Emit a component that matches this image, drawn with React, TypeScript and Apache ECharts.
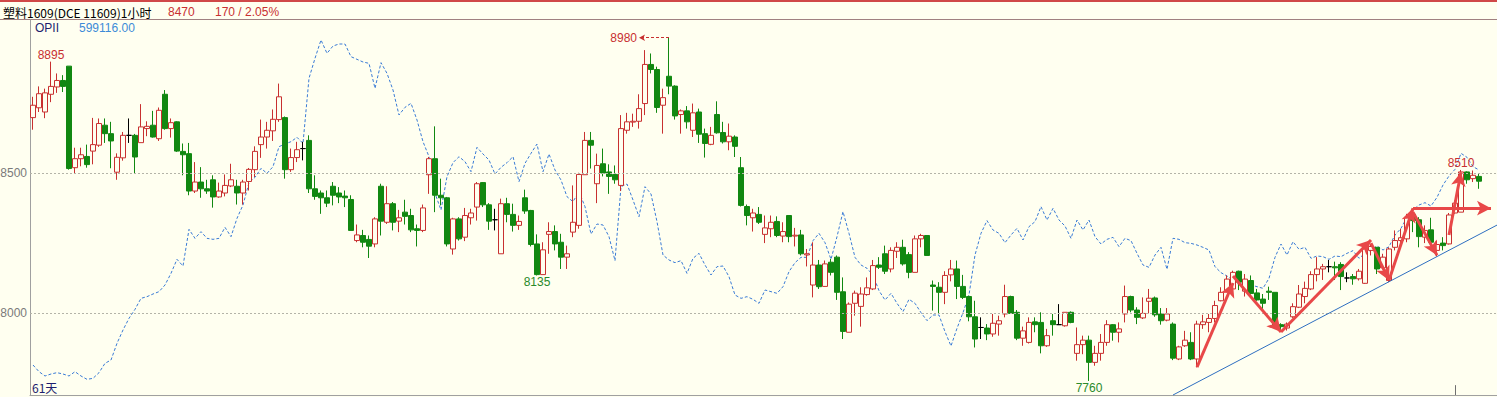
import React, { useEffect, useRef } from "react";
import * as echarts from "echarts";

// ---- data (hourly bars, 塑料1609) ----
const openP = [
  8696, 8731, 8716, 8779, 8805, 8828, 8879, 8518, 8550, 8558,
  8577, 8598, 8669, 8639, 8502, 8553, 8633, 8633, 8607, 8657,
  8669, 8621, 8779, 8657, 8681, 8576, 8568, 8435, 8467, 8443,
  8475, 8414, 8428, 8453, 8452, 8428, 8469, 8511, 8600, 8627,
  8649, 8689, 8696, 8511, 8554, 8586, 8615, 8443, 8428, 8411,
  8452, 8428, 8417, 8405, 8259, 8277, 8263, 8247, 8452, 8324,
  8390, 8328, 8360, 8348, 8301, 8295, 8493, 8550, 8420, 8411,
  8229, 8336, 8271, 8340, 8378, 8465, 8386, 8333, 8212, 8390,
  8352, 8313, 8411, 8366, 8247, 8138, 8281, 8291, 8253, 8200,
  8289, 8313, 8493, 8615, 8461, 8532, 8503, 8494, 8455, 8651,
  8680, 8683, 8746, 8885, 8867, 8740, 8843, 8808, 8707, 8720,
  8651, 8716, 8639, 8601, 8707, 8643, 8610, 8627, 8518, 8380,
  8340, 8352, 8281, 8301, 8327, 8275, 8348, 8275, 8279, 8208,
  8101, 8172, 8096, 8182, 8200, 8077, 7933, 8036, 8025, 8067,
  8087, 8172, 8212, 8158, 8221, 8235, 8209, 8146, 8265, 8277,
  8101, 8093, 8075, 8137, 8158, 8096, 8060, 7988, 7950, 7948,
  7927, 7962, 7998, 8060, 8004, 7912, 7897, 7970, 7968, 7885,
  7974, 7960, 7956, 8004, 7858, 7889, 7905, 7826, 7858, 7897,
  7960, 7933, 7998, 8060, 8012, 7984, 8043, 8055, 7998, 7976,
  7962, 7838, 7885, 7897, 7838, 7960, 7968, 7982, 8045, 8081,
  8087, 8150, 8079, 8117, 8073, 8051, 8079, 8075, 7960, 7948,
  7988, 8022, 8060, 8087, 8138, 8158, 8166, 8166, 8174, 8126,
  8131, 8123, 8107, 8224, 8235, 8162, 8117, 8235, 8259, 8265,
  8352, 8333, 8271, 8297, 8224, 8250, 8247, 8357, 8360, 8503,
  8479, 8487,
];
const closeP = [
  8740, 8781, 8784, 8807, 8828, 8807, 8515, 8550, 8564, 8529,
  8600, 8675, 8639, 8613, 8555, 8633, 8633, 8556, 8663, 8665,
  8627, 8722, 8657, 8678, 8577, 8564, 8435, 8467, 8443, 8435,
  8414, 8435, 8455, 8475, 8428, 8467, 8512, 8576, 8627, 8651,
  8690, 8770, 8511, 8554, 8582, 8586, 8443, 8416, 8411, 8392,
  8420, 8414, 8411, 8295, 8279, 8253, 8239, 8336, 8328, 8390,
  8324, 8340, 8345, 8297, 8295, 8375, 8550, 8420, 8411, 8247,
  8336, 8265, 8348, 8357, 8461, 8386, 8328, 8333, 8390, 8352,
  8313, 8327, 8364, 8245, 8138, 8226, 8291, 8247, 8200, 8212,
  8324, 8494, 8615, 8598, 8526, 8499, 8487, 8475, 8657, 8681,
  8683, 8728, 8885, 8867, 8732, 8767, 8808, 8702, 8720, 8681,
  8713, 8637, 8604, 8633, 8642, 8610, 8630, 8594, 8384, 8348,
  8357, 8324, 8304, 8324, 8277, 8291, 8273, 8278, 8212, 8212,
  8172, 8095, 8176, 8146, 8075, 7936, 8033, 8072, 8069, 8091,
  8170, 8164, 8150, 8224, 8235, 8176, 8146, 8265, 8277, 8206,
  8096, 8075, 8135, 8158, 8096, 8057, 7988, 7909, 7950, 7927,
  7965, 7974, 8060, 8000, 7912, 7938, 7968, 7960, 7885, 7921,
  7960, 7960, 8004, 7968, 7889, 7905, 7826, 7858, 7897, 7960,
  7933, 7945, 8060, 8012, 7986, 8000, 8054, 7995, 7974, 7998,
  7841, 7881, 7905, 7838, 7962, 7970, 7982, 8028, 8075, 8122,
  8146, 8111, 8122, 8071, 8048, 8036, 8075, 7956, 7953, 7962,
  8024, 8069, 8089, 8138, 8158, 8166, 8166, 8162, 8131, 8126,
  8123, 8150, 8229, 8238, 8158, 8200, 8229, 8259, 8269, 8340,
  8330, 8273, 8295, 8253, 8245, 8241, 8350, 8392, 8503, 8475,
  8491, 8470,
];
const lowP = [
  8653, 8716, 8694, 8751, 8784, 8787, 8511, 8499, 8523, 8518,
  8530, 8592, 8606, 8516, 8475, 8543, 8606, 8499, 8607, 8630,
  8625, 8613, 8653, 8625, 8574, 8491, 8420, 8428, 8411, 8425,
  8376, 8411, 8416, 8449, 8387, 8387, 8437, 8485, 8553, 8586,
  8613, 8681, 8479, 8503, 8538, 8544, 8428, 8404, 8354, 8378,
  8384, 8392, 8378, 8295, 8253, 8235, 8197, 8235, 8277, 8318,
  8295, 8289, 8316, 8289, 8238, 8289, 8425, 8360, 8384, 8238,
  8209, 8259, 8257, 8316, 8330, 8378, 8297, 8295, 8212, 8324,
  8291, 8297, 8354, 8238, 8135, 8138, 8212, 8224, 8158, 8158,
  8271, 8301, 8493, 8515, 8392, 8487, 8425, 8461, 8435, 8639,
  8663, 8657, 8705, 8853, 8713, 8639, 8779, 8689, 8639, 8657,
  8627, 8606, 8554, 8598, 8639, 8604, 8580, 8556, 8380, 8313,
  8291, 8318, 8250, 8271, 8271, 8253, 8253, 8238, 8206, 8167,
  8057, 8087, 8095, 8135, 8048, 7909, 7933, 7992, 7953, 8063,
  8083, 8158, 8140, 8146, 8197, 8170, 8125, 8146, 8235, 8206,
  8010, 7998, 8033, 8114, 8051, 8051, 7972, 7879, 7909, 7905,
  7917, 7921, 7986, 8000, 7905, 7885, 7893, 7933, 7858, 7881,
  7921, 7960, 7953, 7965, 7832, 7855, 7760, 7814, 7832, 7885,
  7903, 7897, 7968, 8004, 7962, 7980, 8000, 7988, 7960, 7972,
  7834, 7834, 7881, 7834, 7808, 7945, 7933, 7968, 8043, 8075,
  8083, 8083, 8060, 8067, 8045, 8016, 8048, 7953, 7941, 7939,
  7984, 8019, 8036, 8083, 8114, 8119, 8146, 8119, 8083, 8111,
  8102, 8117, 8105, 8206, 8140, 8158, 8111, 8224, 8250, 8253,
  8289, 8235, 8250, 8247, 8202, 8224, 8245, 8354, 8360, 8461,
  8467, 8443,
];
const highP = [
  8770, 8807, 8799, 8895, 8853, 8847, 8879, 8589, 8589, 8600,
  8695, 8693, 8693, 8681, 8569, 8645, 8693, 8638, 8744, 8683,
  8720, 8732, 8794, 8693, 8683, 8604, 8606, 8538, 8520, 8475,
  8491, 8465, 8494, 8532, 8475, 8475, 8517, 8594, 8689, 8681,
  8725, 8817, 8700, 8586, 8610, 8610, 8633, 8491, 8437, 8437,
  8467, 8449, 8437, 8420, 8316, 8297, 8277, 8342, 8461, 8452,
  8396, 8368, 8404, 8372, 8316, 8387, 8556, 8665, 8479, 8414,
  8340, 8342, 8375, 8372, 8467, 8467, 8392, 8372, 8408, 8411,
  8390, 8348, 8440, 8368, 8281, 8253, 8324, 8313, 8283, 8241,
  8455, 8500, 8645, 8645, 8568, 8586, 8530, 8526, 8705, 8713,
  8710, 8779, 8936, 8924, 8877, 8799, 8980, 8811, 8725, 8737,
  8746, 8728, 8657, 8663, 8754, 8681, 8675, 8633, 8556, 8387,
  8372, 8378, 8348, 8348, 8345, 8324, 8348, 8304, 8297, 8229,
  8253, 8190, 8188, 8194, 8206, 8128, 8039, 8081, 8093, 8128,
  8190, 8200, 8241, 8235, 8253, 8262, 8218, 8277, 8283, 8277,
  8117, 8111, 8150, 8190, 8188, 8137, 8063, 8045, 7986, 7962,
  7998, 7992, 8102, 8063, 8012, 7953, 7986, 7986, 8004, 7945,
  7998, 8033, 8004, 8007, 7950, 7921, 7921, 7885, 7927, 7976,
  7962, 7968, 8099, 8063, 8022, 8057, 8087, 8060, 8019, 8019,
  7968, 7885, 7938, 7933, 7974, 7995, 7998, 8045, 8093, 8135,
  8152, 8152, 8140, 8135, 8087, 8069, 8095, 8075, 7965, 7968,
  8036, 8101, 8113, 8150, 8200, 8176, 8190, 8184, 8182, 8146,
  8140, 8158, 8235, 8247, 8235, 8212, 8235, 8295, 8301, 8354,
  8372, 8342, 8313, 8340, 8259, 8271, 8357, 8402, 8510, 8505,
  8508, 8497,
];
const opiValues = [
  546450, 544650, 543480, 544020, 544380, 544020, 543480, 544650, 543480, 542580,
  542850, 544380, 546900, 547800, 552300, 555900, 559050, 561480, 564450, 564900,
  565620, 566250, 568050, 571200, 574980, 573180, 583080, 580650, 582450, 580650,
  580380, 580650, 583620, 581100, 586050, 589650, 595680, 597120, 599550, 598200,
  600000, 605400, 606120, 606750, 607920, 606300, 623850, 629250, 634200, 630600,
  632580, 633120, 633120, 629700, 628980, 628260, 627900, 621150, 628080, 625200,
  620700, 613950, 616020, 617100, 612600, 606750, 602700, 592800, 588300, 597300,
  601080, 602700, 601350, 598650, 605220, 603420, 601800, 598020, 599820, 601080,
  602700, 595950, 600900, 603600, 606120, 598650, 603420, 599100, 596400, 591900,
  590550, 593250, 589200, 581820, 584520, 584250, 581100, 574620, 594600, 595320,
  591000, 586500, 594600, 592620, 585150, 576150, 574800, 574080, 574620, 571200,
  575250, 576600, 573450, 570750, 573000, 573180, 570300, 565350, 564450, 564900,
  564180, 563100, 566700, 566250, 565800, 567600, 571650, 574080, 575520, 575520,
  580020, 582000, 579480, 574980, 581100, 587850, 582000, 575520, 573450, 572550,
  570750, 566520, 564000, 565800, 563100, 560850, 564180, 563100, 560580, 558420,
  559950, 559950, 555450, 551580, 556350, 560580, 565350, 576150, 582000, 585420,
  582900, 582000, 579480, 581550, 583350, 580200, 583800, 585150, 589200, 585600,
  588750, 585600, 583980, 580650, 585600, 582900, 585600, 581100, 579120, 580380,
  580920, 578400, 580650, 580020, 576600, 573450, 572820, 576150, 578220, 572280,
  580650, 580380, 579480, 579300, 578850, 578220, 577500, 573000, 571380, 570480,
  569400, 568050, 568950, 568050, 567600, 567150, 569850, 575520, 579120, 576150,
  579750, 577680, 578220, 575250, 575880, 575700, 574980, 575880, 575700, 576600,
  577320, 575250, 576600, 577500, 578580, 577500, 578400, 581550, 583350, 586320,
  588300, 589650, 590280, 589380, 591720, 595050, 597480, 599280, 603600, 602520,
  600000, 599116,
];
const slotCount = 245;
const barIndex = Array.from({ length: slotCount }, (_, i) => String(i));
const priceTicks = [8000, 8500];
const highMarks = [[3, 8895], [238, 8510]];
const lowMarks = [[84, 8135], [176, 7760]];
const peakMark = { from: [106, 8980], to: [101, 8980] };
const trendArrows = [
  [[194, 7809], [200, 8108]],
  [[200, 8133], [208, 7934]],
  [[208, 7934], [223, 8261]],
  [[223, 8250], [226, 8118]],
  [[226, 8118], [230, 8374]],
  [[230, 8360], [234, 8207]],
  [[236, 8279], [238, 8502]],
  [[230, 8374], [243, 8374]],
];
const supportLine = [[190, 7710], [244, 8314]];
const cursorTick = [[237, 7710], [237, 7745]];
const headerName = "塑料1609(DCE 11609)1小时";
const headerLast = "8470";
const headerChange = "170 / 2.05%";
const opiName = "OPII";
const opiLast = "599116.00";
const periodText = "61天";

const RED = "#c83030";
const GREEN = "#118811";
const BG = "#fffff0";

export default function App() {
  const ref = useRef<HTMLDivElement>(null);
  useEffect(() => {
    if (!ref.current) return;
    const chart = echarts.init(ref.current, undefined, { renderer: "svg" });
    const candles = openP.map((o, i) => [o, closeP[i], lowP[i], highP[i]]);
    const markPts = [
      ...highMarks.map(([i, v]) => ({
        coord: [i, v],
        value: v,
        label: { position: "top", distance: 1, color: RED },
      })),
      ...lowMarks.map(([i, v]) => ({
        coord: [i, v],
        value: v,
        label: { position: "bottom", distance: 1, color: "#2a8a2a" },
      })),
    ];
    const lines: any[] = [
      ...priceTicks.map((p) => ({
        yAxis: p,
        lineStyle: { color: "#b4b4a8", type: [2, 2], width: 1 },
      })),
      [
        {
          coord: peakMark.from,
          symbol: "none",
          lineStyle: { color: RED, type: [3, 2], width: 1 },
          label: {
            show: true,
            position: "end",
            distance: 2,
            formatter: String(peakMark.from[1]),
            color: RED,
            fontSize: 12,
            fontFamily: "Liberation Sans",
          },
        },
        { coord: peakMark.to, symbol: "arrow", symbolSize: [5, 6] },
      ],
      [
        { coord: supportLine[0], symbol: "none", lineStyle: { color: "#2f6fc0", width: 1, type: "solid" } },
        { coord: supportLine[1], symbol: "none" },
      ],
      [
        { coord: cursorTick[0], symbol: "none", lineStyle: { color: "#707070", width: 1, type: "solid" } },
        { coord: cursorTick[1], symbol: "none" },
      ],
      ...trendArrows.map(([a, b]) => [
        { coord: a, symbol: "none", lineStyle: { color: "#e84848", width: 3, type: "solid" } },
        { coord: b, symbol: "arrow", symbolSize: [11, 14] },
      ]),
    ];
    chart.setOption({
      animation: false,
      backgroundColor: BG,
      grid: {
        left: 30,
        top: 20,
        width: 1470,
        height: 375,
        show: false,
        containLabel: false,
        outerBoundsMode: "none",
      },
      xAxis: {
        type: "category",
        data: barIndex,
        boundaryGap: true,
        axisLine: { show: true, lineStyle: { color: "#a0a0a0" } },
        axisTick: { show: false },
        axisLabel: { show: false },
        splitLine: { show: false },
      },
      yAxis: [
        {
          type: "value",
          min: 7710,
          max: 9043,
          position: "left",
          axisLine: { show: true, lineStyle: { color: "#a0a0a0" } },
          axisTick: { show: false },
          splitLine: { show: false },
          axisLabel: {
            customValues: priceTicks,
            formatter: (v: number) => String(v),
            color: "#7a7a7a",
            fontSize: 12,
            fontFamily: "Liberation Sans",
            margin: 3,
          },
        },
        {
          type: "value",
          min: 538350,
          max: 639600,
          show: false,
          splitLine: { show: false },
        },
      ],
      series: [
        {
          type: "line",
          yAxisIndex: 1,
          data: opiValues,
          symbol: "none",
          z: 1,
          lineStyle: { color: "#3a7bd5", width: 1, type: [3, 2] },
        },
        {
          type: "candlestick",
          data: candles,
          barWidth: 5,
          z: 3,
          itemStyle: {
            color: BG,
            color0: GREEN,
            borderColor: RED,
            borderColor0: GREEN,
            borderColorDoji: "#000000",
            borderWidth: 1,
          },
          markPoint: {
            symbol: "circle",
            symbolSize: 0,
            silent: true,
            label: {
              show: true,
              formatter: "{c}",
              fontSize: 12,
              fontFamily: "Liberation Sans",
            },
            data: markPts,
          },
          markLine: {
            silent: true,
            symbol: ["none", "none"],
            label: { show: false },
            data: lines,
          },
        },
      ],
      graphic: [
        { type: "rect", shape: { x: 0, y: 0, width: 1497, height: 2 }, style: { fill: "#d04848" } },
        { type: "rect", shape: { x: 0, y: 19, width: 1497, height: 1 }, style: { fill: "#a08080" } },
        {
          type: "text",
          x: 3,
          y: 12,
          style: { text: headerName, fill: "#000", font: '12px "Noto Sans CJK SC"', textVerticalAlign: "middle" },
        },
        {
          type: "text",
          x: 168,
          y: 12,
          style: { text: headerLast, fill: RED, font: '12px "Liberation Sans"', textVerticalAlign: "middle" },
        },
        {
          type: "text",
          x: 215,
          y: 12,
          style: { text: headerChange, fill: RED, font: '12px "Liberation Sans"', textVerticalAlign: "middle" },
        },
        {
          type: "text",
          x: 35,
          y: 28,
          style: { text: opiName, fill: "#1e1e6e", font: '12px "Liberation Sans"', textVerticalAlign: "middle" },
        },
        {
          type: "text",
          x: 79,
          y: 28,
          style: { text: opiLast, fill: "#3d8bd8", font: '12px "Liberation Sans"', textVerticalAlign: "middle" },
        },
        {
          type: "text",
          x: 32,
          y: 387,
          style: { text: periodText, fill: "#1e1e6e", font: '12px "Noto Sans CJK SC"', textVerticalAlign: "middle" },
        },
      ],
    });
    return () => chart.dispose();
  }, []);
  return (
    <div
      ref={ref}
      style={{ position: "fixed", left: 0, top: 0, width: 1497, height: 397, background: BG }}
    />
  );
}
